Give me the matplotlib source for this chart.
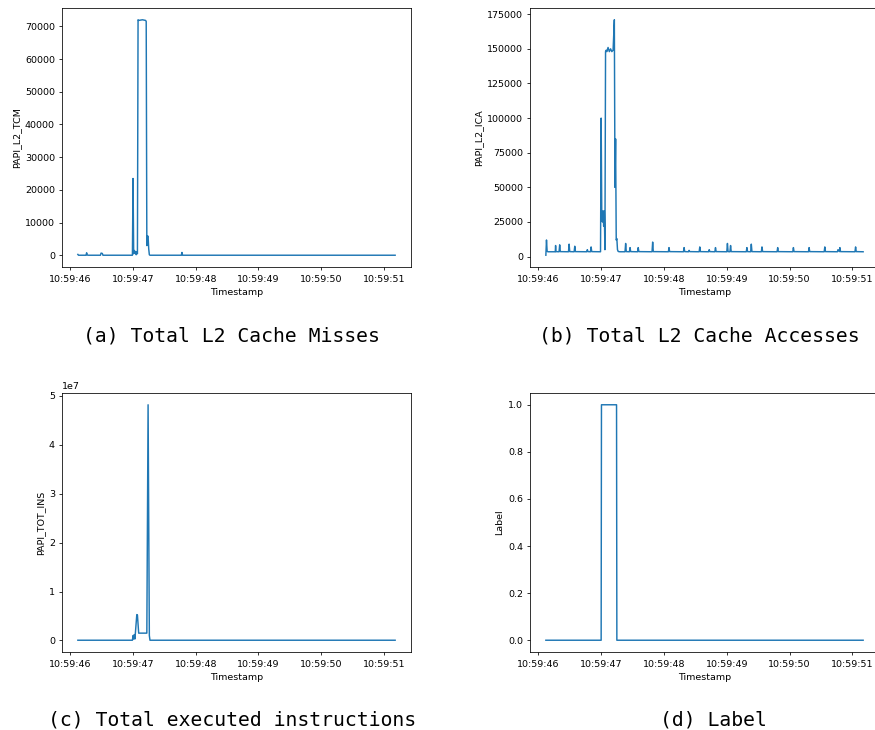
import matplotlib
matplotlib.use("Agg")
import matplotlib.pyplot as plt
import matplotlib.dates as mdates
import pandas as pd

# ---- data (seconds after 10:59:46 -> value) ----
t_tcm = [0.12, 0.13, 0.25, 0.26, 0.27, 0.29, 0.48, 0.49, 0.51, 0.52, 0.99, 1.00, 1.01, 1.02,
         1.03, 1.04, 1.05, 1.06, 1.07, 1.08, 1.09, 1.15, 1.20, 1.21, 1.22, 1.23, 1.24, 1.25,
         1.26, 1.27, 1.77, 1.78, 1.79, 5.18]
v_tcm = [300, 50, 50, 800, 100, 50, 50, 700, 600, 50, 50, 23500, 500, 1500,
         800, 1200, 200, 1000, 500, 72000, 71800, 72000, 71800, 71500, 3000, 6000, 5800, 2000,
         200, 50, 50, 900, 50, 50]

t_ica = [0.12, 0.13, 0.14, 0.15, 0.27, 0.275, 0.28, 0.33, 0.34, 0.35, 0.48, 0.49, 0.50,
         0.57, 0.58, 0.59, 0.77, 0.78, 0.79, 0.83, 0.84, 0.85, 0.99, 1.00, 1.01, 1.02, 1.03,
         1.04, 1.05, 1.06, 1.07, 1.08, 1.09, 1.11, 1.13, 1.15, 1.17, 1.19, 1.21, 1.22, 1.23,
         1.24, 1.25, 1.26, 1.27, 1.28, 1.30,
         1.38, 1.39, 1.40, 1.45, 1.46, 1.47, 1.58, 1.59, 1.60, 1.81, 1.82, 1.83, 2.07, 2.08, 2.09,
         2.31, 2.32, 2.33, 2.39, 2.40, 2.41, 2.56, 2.57, 2.58, 2.71, 2.72, 2.73, 2.81, 2.82, 2.83,
         3.00, 3.01, 3.02, 3.05, 3.06, 3.07, 3.31, 3.32, 3.33, 3.38, 3.39, 3.40, 3.55, 3.56, 3.57,
         3.80, 3.81, 3.82, 4.05, 4.06, 4.07, 4.30, 4.31, 4.32, 4.55, 4.56, 4.57, 4.76, 4.77, 4.79,
         4.80, 4.81, 5.04, 5.05, 5.06, 5.17]
v_ica = [1000, 12000, 4000, 3500, 3500, 8000, 3600, 3500, 8500, 3600, 3500, 9000, 3600,
         3500, 7500, 3600, 3500, 5000, 3600, 3500, 7000, 3600, 3500, 100000, 30000, 25000, 33000,
         22000, 33000, 5000, 148000, 149000, 148000, 151000, 148000, 150000, 148000, 149000,
         171000, 50000, 85000, 12000, 13000, 5000, 3800, 3600, 3500,
         3500, 9500, 3600, 3500, 6500, 3600, 3500, 6500, 3600, 3500, 10500, 3600, 3500, 6500, 3600,
         3500, 6500, 3600, 3500, 4500, 3600, 3500, 7000, 3600, 3500, 5000, 3600, 3500, 6500, 3600,
         3500, 9500, 3600, 3500, 8000, 3600, 3500, 6500, 3600, 3500, 9000, 3600, 3500, 7000, 3600,
         3500, 6500, 3600, 3500, 6500, 3600, 3500, 6500, 3600, 3500, 7000, 3600, 3500, 5000, 3600,
         6500, 3600, 3500, 7000, 3600, 3500]

t_ins = [0.12, 0.99, 1.00, 1.01, 1.02, 1.03, 1.06, 1.07, 1.09, 1.15, 1.21, 1.22, 1.24, 1.26,
         1.27, 5.18]
v_ins = [5e4, 5e4, 1.0e6, 3e5, 1.2e6, 3e5, 5.3e6, 5.2e6, 1.5e6, 1.5e6, 1.5e6, 1.5e6, 4.82e7,
         1.0e6, 5e4, 5e4]

t_lab = [0.12, 1.00, 1.005, 1.245, 1.25, 5.17]
v_lab = [0, 0, 1, 1, 0, 0]

ylabels = ["PAPI_L2_TCM", "PAPI_L2_ICA", "PAPI_TOT_INS", "Label"]
captions = ["(a) Total L2 Cache Misses", "(b) Total L2 Cache Accesses",
            "(c) Total executed instructions", "(d) Label"]

base = pd.Timestamp("2023-01-01 10:59:46")


def to_time(secs):
    return base + pd.to_timedelta(secs, unit="s")


W, H = 875, 730
fig = plt.figure(figsize=(W / 100, H / 100), dpi=100)

# axes boxes in pixels: left, top, right, bottom
boxes = [(62, 8, 411, 267), (530, 8, 879, 267), (62, 393, 411, 652), (530, 393, 879, 652)]
cap_pos = [(231, 341), (699, 341), (232, 726), (713, 726)]
series = [(t_tcm, v_tcm), (t_ica, v_ica), (t_ins, v_ins), (t_lab, v_lab)]

fs = 6.8
for (l, t, r, b), (ts, vs), yl, cap, (cx, cy) in zip(boxes, series, ylabels, captions, cap_pos):
    ax = fig.add_axes([l / W, 1 - b / H, (r - l) / W, (b - t) / H])
    ax.plot(to_time(ts), vs, color="#1f77b4", lw=1.05)
    ax.xaxis.set_major_locator(mdates.SecondLocator())
    ax.xaxis.set_major_formatter(mdates.DateFormatter("%H:%M:%S"))
    ax.tick_params(labelsize=fs, length=2.5, width=0.56, pad=2.6)
    ax.tick_params(axis="x", pad=3.2)
    ax.yaxis.get_offset_text().set_fontsize(fs)
    for s in ax.spines.values():
        s.set_linewidth(0.56)
    ax.set_xlabel("Timestamp", fontsize=fs, labelpad=3.0)
    ax.set_ylabel(yl, fontsize=fs, labelpad=2.5)
    fig.text(cx / W, 1 - cy / H, cap, ha="center", va="baseline",
             family="DejaVu Sans Mono", fontsize=14.2)

fig.savefig("out.png", dpi=100)
